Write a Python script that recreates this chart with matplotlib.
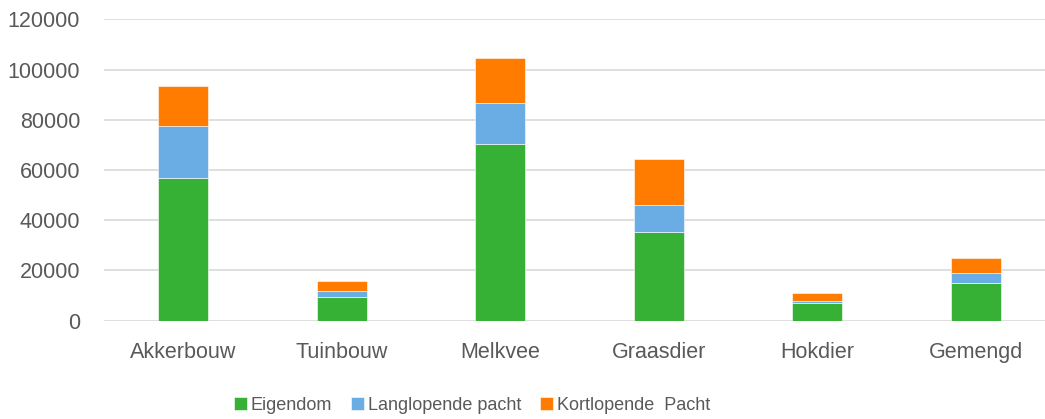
import matplotlib.pyplot as plt
import numpy as np

plt.rcParams['font.family'] = ['Liberation Sans', 'DejaVu Sans']

# gegevens per sector
sectoren = ['Akkerbouw', 'Tuinbouw', 'Melkvee', 'Graasdier', 'Hokdier', 'Gemengd']
eigendom = [57000, 9300, 70300, 35400, 6900, 15000]
lang_pacht = [20400, 2500, 16200, 10800, 900, 4000]
kort_pacht = [15900, 4100, 18100, 18000, 3100, 5800]
yticks = [0, 20000, 40000, 60000, 80000, 100000, 120000]

fig = plt.figure(figsize=(10.45, 4.19), dpi=100)
ax = fig.add_axes([103.7/1045, 1-320.7/419, 951.6/1045, 301.4/419])

x = np.arange(len(sectoren))
w = 0.315
ek = dict(edgecolor='white', linewidth=0.4)
ax.bar(x, eigendom, w, color='#36b136', label='Eigendom', zorder=3, **ek)
b2 = np.array(eigendom)
ax.bar(x, lang_pacht, w, bottom=b2, color='#6aade4', label='Langlopende pacht', zorder=3, **ek)
b3 = b2 + np.array(lang_pacht)
ax.bar(x, kort_pacht, w, bottom=b3, color='#ff7c00', label='Kortlopende  Pacht', zorder=3, **ek)

ax.set_xlim(-0.5, len(sectoren)-0.5)
ax.set_ylim(0, 120000)
ax.set_yticks(yticks)
ax.set_yticklabels([str(v) for v in yticks])
ax.set_xticks(x)
ax.set_xticklabels(sectoren)
ax.yaxis.grid(True, color='#d9d9d9', linewidth=1.2, zorder=0)
ax.set_axisbelow(True)
for s in ax.spines.values():
    s.set_visible(False)
ax.tick_params(axis='y', length=0, pad=17, labelsize=15.5, labelcolor='#595959')
ax.tick_params(axis='x', length=0, pad=15, labelsize=15.5, labelcolor='#595959')

leg = fig.legend(loc='center', bbox_to_anchor=(0.4517, 1-405/419), ncol=3,
                 frameon=False, fontsize=13, handlelength=0.72, handleheight=0.72,
                 handletextpad=0.2, columnspacing=1.05, borderaxespad=0)
for t in leg.get_texts():
    t.set_color('#595959')

fig.savefig('out.png', dpi=100)
